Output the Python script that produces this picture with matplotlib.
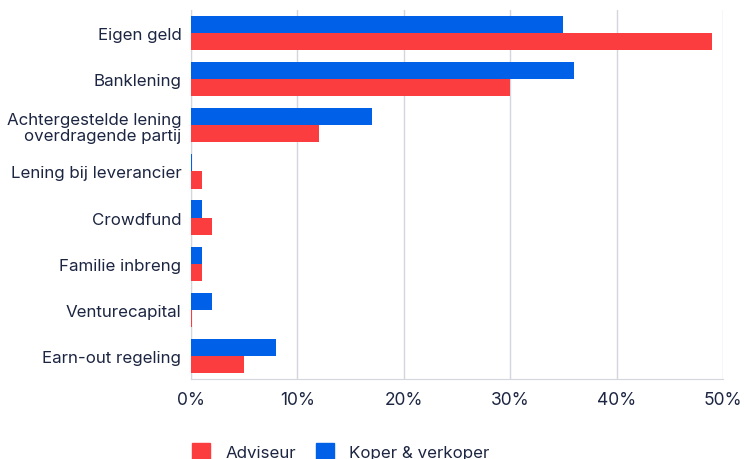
import numpy as np
import matplotlib.pyplot as plt
from matplotlib.patches import Patch
from matplotlib.ticker import PercentFormatter

plt.rcParams['font.family'] = ['Inter', 'DejaVu Sans']

# financing sources, top to bottom
categories = ['Eigen geld', 'Banklening', 'Achtergestelde lening\noverdragende partij',
              'Lening bij leverancier', 'Crowdfund', 'Familie inbreng',
              'Venturecapital', 'Earn-out regeling']
adviseur = [49, 30, 12, 1, 2, 1, 0.1, 5]
koper_verkoper = [35, 36, 17, 0.1, 1, 1, 2, 8]

red = '#fc3d3f'
blue = '#0061e8'
text_color = '#1c2541'
grid_color = '#d3d6dc'

fig = plt.figure(figsize=(7.44, 4.60), dpi=100)
ax = fig.add_axes([191 / 744, 80 / 460, 532 / 744, 369 / 460])

y = np.arange(len(categories))
h = 0.37
ax.barh(y - h / 2, koper_verkoper, height=h, color=blue, zorder=3)
ax.barh(y + h / 2, adviseur, height=h, color=red, zorder=3)

ax.set_ylim(len(categories) - 0.5, -0.5)
ax.set_xlim(0, 50)
ax.set_yticks(y)
ax.set_yticklabels(categories, color=text_color, fontsize=12.2, linespacing=1.12)
ax.set_xticks(np.arange(0, 51, 10))
ax.xaxis.set_major_formatter(PercentFormatter(decimals=0))
ax.tick_params(axis='x', colors=text_color, labelsize=12.5, length=0, pad=9)
ax.tick_params(axis='y', length=0, pad=7)
for lbl in ax.get_yticklabels():
    lbl.set_horizontalalignment('right')

ax.grid(axis='x', color=grid_color, linewidth=1, zorder=0)
for side in ['top', 'right']:
    ax.spines[side].set_visible(False)
ax.spines['left'].set_color(grid_color)
ax.spines['bottom'].set_color(grid_color)

handles = [Patch(color=red, label='Adviseur'), Patch(color=blue, label='Koper & verkoper')]
fig.legend(handles=handles, loc='lower left', bbox_to_anchor=(177 / 744, -16 / 460),
           ncol=2, frameon=False, fontsize=12.2, handlelength=1.05, handleheight=1.05,
           columnspacing=1.2, handletextpad=0.9, labelcolor=text_color)

fig.savefig('out.png', dpi=100)
